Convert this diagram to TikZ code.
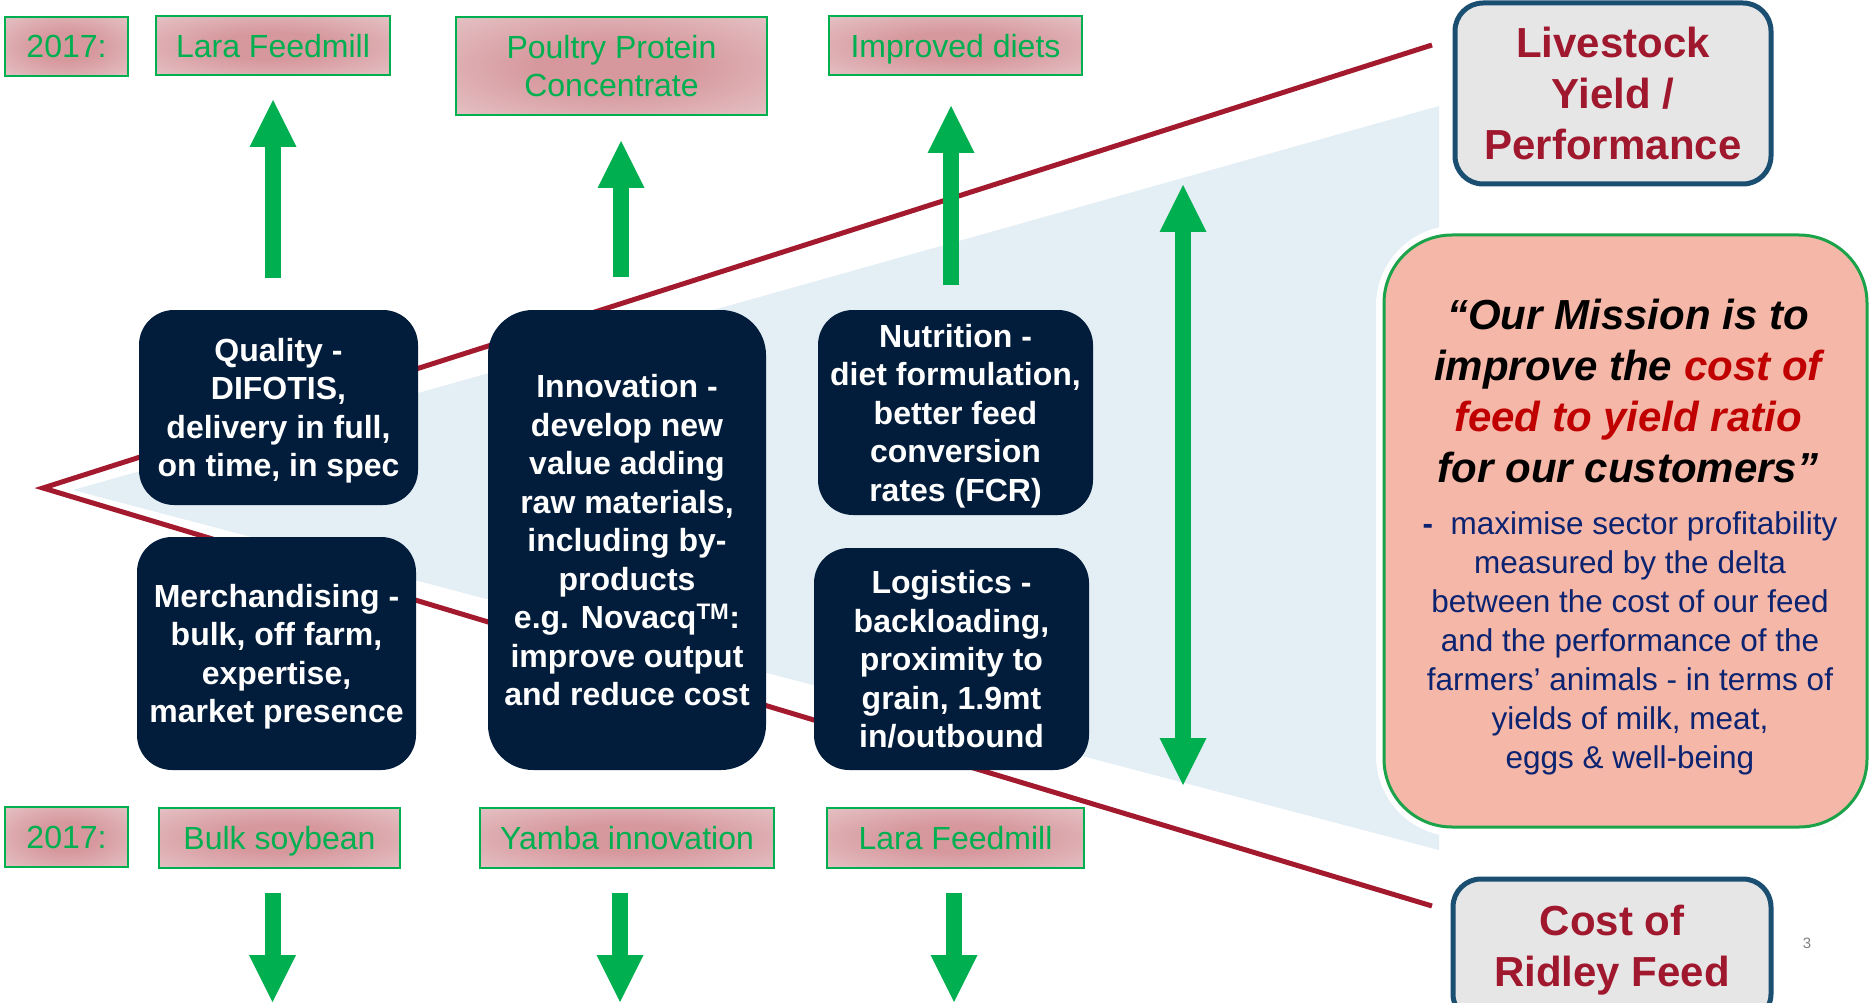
\documentclass[tikz,border=0pt]{standalone}
\usepackage{fontspec}
\setmainfont{Liberation Sans}
\usetikzlibrary{arrows.meta,shadows}
\definecolor{navy}{HTML}{021D3B}
\definecolor{fgreen}{HTML}{00B050}
\definecolor{redline}{HTML}{A31A2E}
\definecolor{lblue}{HTML}{E3EEF5}
\definecolor{pinkc}{HTML}{D6989D}
\definecolor{pinko}{HTML}{F0E2E4}
\definecolor{kpired}{HTML}{A0182E}
\definecolor{kpiborder}{HTML}{1B4F72}
\definecolor{kpifill}{HTML}{E6E6E6}
\definecolor{salmon}{HTML}{F5B7A8}
\definecolor{misgreen}{HTML}{1BA34A}
\definecolor{qred}{HTML}{C00000}
\definecolor{qblue}{HTML}{0B2370}
\pgfdeclareradialshading{pinkglow}{\pgfpoint{0bp}{0bp}}{color(0bp)=(pinkc); color(12bp)=(pinkc); color(55bp)=(pinko); color(100bp)=(pinko)}
\tikzset{
  darkbox/.style={fill=navy, rounded corners=35pt, text=white, align=center,
    font=\fontsize{32}{38.5}\selectfont\bfseries, inner sep=0pt, text depth=0pt},
  glabel/.style={draw=fgreen, line width=2pt, shading=pinkglow,
    text=fgreen, font=\fontsize{32}{38}\selectfont, align=center, inner sep=0pt, text depth=0pt},
  kpi/.style={draw=kpiborder, line width=5pt, fill=kpifill, rounded corners=28pt,
    text=kpired, font=\fontsize{42}{51}\selectfont\bfseries, align=center, inner sep=0pt},
  garrow/.style={draw=fgreen, line width=16pt,
    -{Triangle[width=47pt,length=47pt,line width=0pt,fill=fgreen]}},
  gdarrow/.style={draw=fgreen, line width=16pt,
    {Triangle[width=47pt,length=47pt,line width=0pt,fill=fgreen]}-{Triangle[width=47pt,length=47pt,line width=0pt,fill=fgreen]}},
  redl/.style={draw=redline, line width=5pt},
}
\begin{document}
\begin{tikzpicture}[x=1pt,y=-1pt]
\useasboundingbox[fill=white] (0,0) rectangle (1874,1003);
% light blue funnel
\fill[lblue] (73,490) -- (1439,106) -- (1439,850) -- cycle;
% red funnel lines
\coordinate (apex) at (43,488);
\coordinate (topend) at (1432,45);
\coordinate (botend) at (1432,906);
\draw[redl] (topend) -- (apex) -- (botend);

% arrows
\coordinate (u1s) at (273,278); \coordinate (u1e) at (273,100);
\coordinate (u2s) at (621,277); \coordinate (u2e) at (621,141);
\coordinate (u3s) at (951,285); \coordinate (u3e) at (951,106);
\coordinate (dbt) at (1183,185); \coordinate (dbb) at (1183,785);
\coordinate (d1s) at (272.5,893); \coordinate (d1e) at (272.5,1002);
\coordinate (d2s) at (620,893); \coordinate (d2e) at (620,1002);
\coordinate (d3s) at (954,893); \coordinate (d3e) at (954,1002);
\draw[garrow] (u1s) -- (u1e);
\draw[garrow] (u2s) -- (u2e);
\draw[garrow] (u3s) -- (u3e);
\draw[gdarrow] (dbt) -- (dbb);
\draw[garrow] (d1s) -- (d1e);
\draw[garrow] (d2s) -- (d2e);
\draw[garrow] (d3s) -- (d3e);

% dark boxes
\node[darkbox, minimum width=279pt, minimum height=195pt] (quality) at (278.5,407.5)
  {Quality -\\DIFOTIS,\\delivery in full,\\on time, in spec};
\node[darkbox, minimum width=279pt, minimum height=233pt] (merch) at (276.5,653.5)
  {Merchandising -\\bulk, off farm,\\expertise,\\market presence};
\node[darkbox, rounded corners=45pt, minimum width=278pt, minimum height=460pt] (innov) at (627,540)
  {Innovation -\\develop new\\value adding\\raw materials,\\including by-\\products\\e.g. Novacq\textsuperscript{TM}:\\improve output\\and reduce cost};
\node[darkbox, minimum width=275pt, minimum height=205pt] (nutri) at (955.5,412.5)
  {Nutrition -\\diet formulation,\\better feed\\conversion\\rates (FCR)};
\node[darkbox, minimum width=275pt, minimum height=222pt] (logi) at (951.5,659)
  {Logistics -\\backloading,\\proximity to\\grain, 1.9mt\\in/outbound};

% green labels top
\node[glabel, minimum width=123pt, minimum height=59pt] (y1) at (66.5,46.5) {2017:};
\node[glabel, minimum width=234pt, minimum height=59pt] (t1) at (273,46) {Lara Feedmill};
\node[glabel, minimum width=311pt, minimum height=98pt] (t2) at (611.5,66) {Poultry Protein\\Concentrate};
\node[glabel, minimum width=253pt, minimum height=59pt] (t3) at (955.5,46) {Improved diets};
% green labels bottom
\node[glabel, minimum width=123pt, minimum height=60pt] (y2) at (66.5,837) {2017:};
\node[glabel, minimum width=241pt, minimum height=60pt] (b1) at (279.5,838) {Bulk soybean};
\node[glabel, minimum width=294pt, minimum height=60pt] (b2) at (627,838) {Yamba innovation};
\node[glabel, minimum width=257pt, minimum height=60pt] (b3) at (955.5,838) {Lara Feedmill};

% KPI boxes
\node[kpi, minimum width=316pt, minimum height=181pt] (yield) at (1613,93.5)
  {Livestock\\Yield /\\Performance};
\node[kpi, minimum width=318pt, minimum height=143pt] (cost) at (1612,950.5)
  {Cost of\\Ridley Feed};

% mission box
\node[draw=white, line width=9pt, fill=white, rounded corners=76pt,
  minimum width=490pt, minimum height=602pt, inner sep=0pt,
  drop shadow={shadow xshift=2pt, shadow yshift=-4pt, opacity=0.3}] (glow) at (1625.5,531) {};
\node[draw=misgreen, line width=3pt, fill=salmon, rounded corners=68pt,
  minimum width=483pt, minimum height=592pt, inner sep=0pt] (mission) at (1625.5,531) {};
\node[font=\fontsize{42}{51}\selectfont\bfseries\itshape, align=center, inner sep=0pt] (quote) at (1628,391)
  {“Our Mission is to\\improve the \textcolor{qred}{cost of}\\\textcolor{qred}{feed to yield ratio}\\for our customers”};
\node[font=\fontsize{31.5}{39}\selectfont, text=qblue, align=center, inner sep=0pt] (detail) at (1630,643)
  {\textbf{-}\ \ maximise sector profitability\\measured by the delta\\between the cost of our feed\\and the performance of the\\farmers’ animals - in terms of\\yields of milk, meat,\\eggs \& well-being};

% page number
\node[font=\fontsize{15}{18}\selectfont, text=gray] (pnum) at (1807,943) {3};
\end{tikzpicture}
\end{document}
